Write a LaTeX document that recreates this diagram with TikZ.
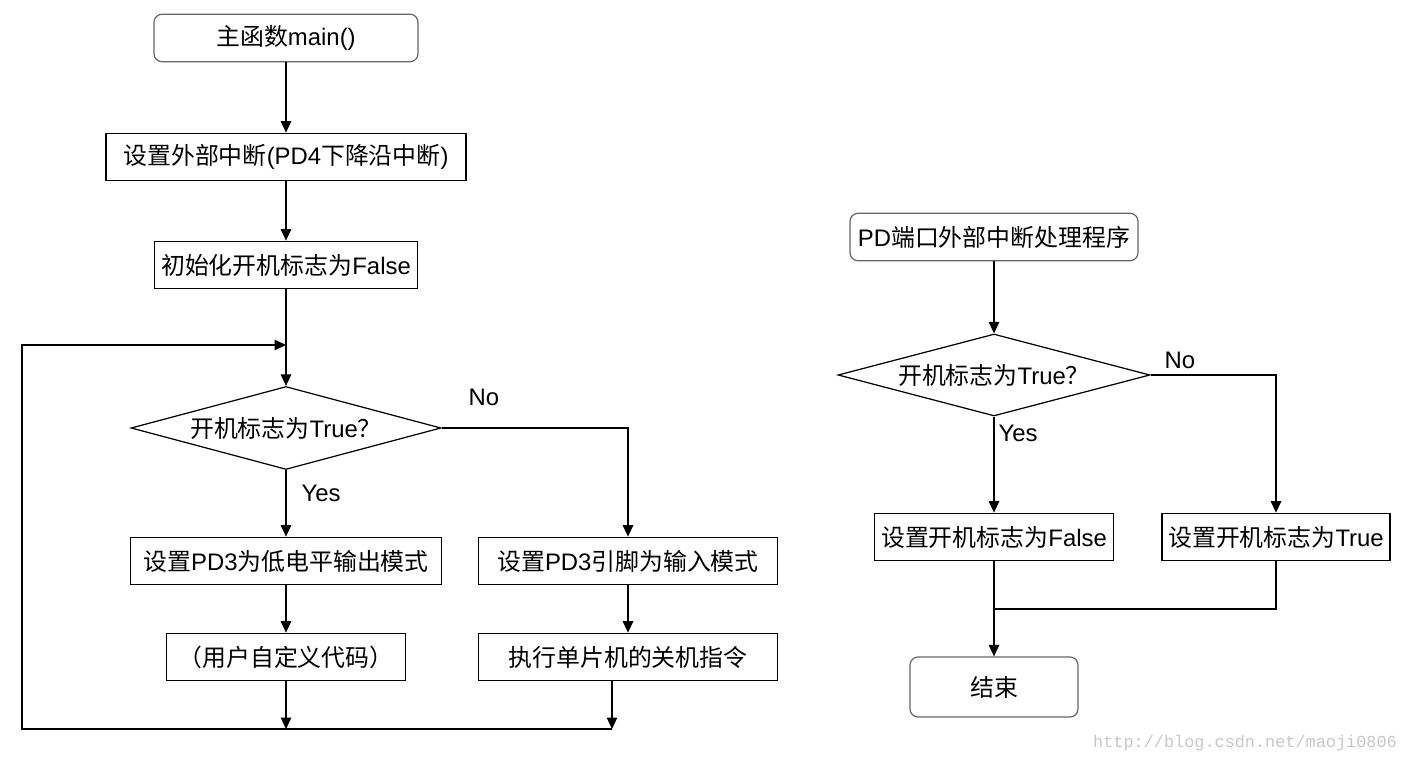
\documentclass[tikz,border=0pt]{standalone}
\usepackage{fontspec}
\setmainfont{Liberation Sans}
\setmonofont{Liberation Mono}
\newfontfamily\cjk{Noto Sans CJK SC}
\newcommand{\zh}[1]{{\cjk #1}}
\usepackage{tikz}
\usetikzlibrary{arrows.meta,shapes.geometric}

\tikzset{
	box/.style={draw, line width=0.7pt, inner sep=0pt, minimum height=0.95cm},
	startend/.style={box, draw=black!60, rounded corners=0.16cm},
	decide/.style={draw, line width=0.7pt, diamond, aspect=3.75, inner sep=0pt},
	arr/.style={line width=0.7pt, -{Triangle[length=0.23cm,width=0.21cm]}},
	ln/.style={line width=0.7pt},
	lbl/.style={inner sep=0pt}
}

\begin{document}
\begin{tikzpicture}[x=0.02cm,y=-0.02cm,font=\fontsize{13.6}{16}\selectfont]
			\useasboundingbox (0,0) rectangle (1406,763);
			% main loop
			\node[startend, minimum width=5.28cm] (main) at (286,38) {\zh{主函数}main()};
			\node[box, minimum width=7.2cm] (extint) at (286,157) {\zh{设置外部中断}(PD4\zh{下降沿中断})};
			\node[box, minimum width=5.26cm] (init) at (286,265) {\zh{初始化开机标志为}False};
			\node[decide, minimum width=6.2cm, minimum height=1.66cm] (chkon) at (286,428) {\zh{开机标志为}True\zh{？}};
			\node[box, minimum width=6.22cm] (lowout) at (286,561) {\zh{设置}PD3\zh{为低电平输出模式}};
			\node[box, minimum width=5.98cm] (inmode) at (628,561) {\zh{设置}PD3\zh{引脚为输入模式}};
			\node[box, minimum width=4.78cm] (user) at (286,657) {\zh{（用户自定义代码）}};
			\node[box, minimum width=5.98cm] (halt) at (628,657) {\zh{执行单片机的关机指令}};
			\coordinate (join) at (286,345);
			\coordinate (tl) at (22,345);
			\coordinate (bl) at (22,729);
			\coordinate (br) at (612,729);
			\coordinate (bm) at (286,729);

			\draw[arr] (main) -- (extint);
			\draw[arr] (extint) -- (init);
			\draw[arr] (init) -- (chkon.north);
			\draw[arr] (chkon.south) -- (lowout.north);
			\draw[arr] (chkon.east) -| (inmode.north);
			\draw[arr] (lowout) -- (user);
			\draw[arr] (inmode) -- (halt);
			\draw[arr] (user) -- (bm);
			\draw[arr] (halt.south -| br) -- (br);
			\draw[arr] (br) -- (bl) -- (tl) -- (join);
			\node[lbl] (no1) at (484,397) {No};
			\node[lbl] (yes1) at (321,493) {Yes};

			% interrupt handler
			\node[startend, minimum width=5.76cm] (isr) at (994,237) {PD\zh{端口外部中断处理程序}};
			\node[decide, minimum width=6.24cm, minimum height=1.64cm] (chkisr) at (994,375) {\zh{开机标志为}True\zh{？}};
			\node[box, minimum width=4.78cm] (setf) at (994,537) {\zh{设置开机标志为}False};
			\node[box, minimum width=4.56cm] (sett) at (1276,537) {\zh{设置开机标志为}True};
			\node[startend, minimum width=3.36cm, minimum height=1.2cm] (fin) at (994,687) {\zh{结束}};
			\coordinate (merge) at (994,609);

			\draw[arr] (isr) -- (chkisr.north);
			\draw[arr] (chkisr.south) -- (setf.north);
			\draw[arr] (chkisr.east) -| (sett.north);
			\draw[ln] (sett.south) |- (merge);
			\draw[arr] (setf.south) -- (fin.north);
			\node[lbl] (no2) at (1180,360) {No};
			\node[lbl] (yes2) at (1018,433) {Yes};

			\node[lbl, text=black!22, font=\ttfamily\fontsize{9.6}{11}\selectfont] (mark) at (1245,743) {http://blog.csdn.net/maoji0806};
		\end{tikzpicture}
\end{document}
